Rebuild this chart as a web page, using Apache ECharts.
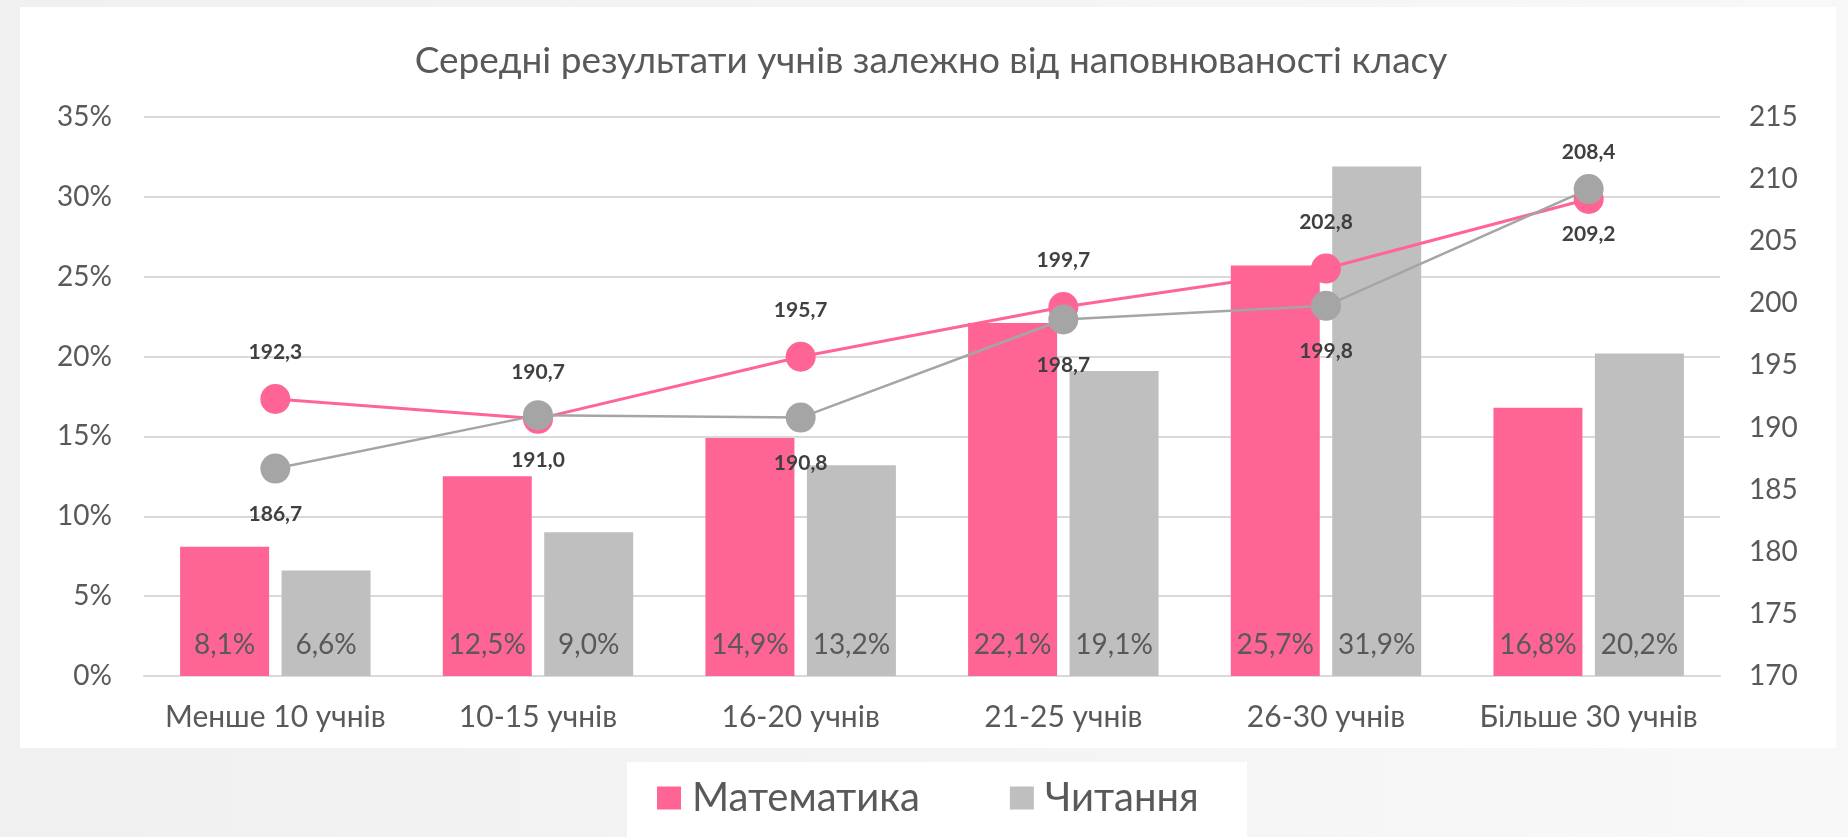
<!DOCTYPE html>
<html>
<head>
<meta charset="utf-8">
<script src="https://cdn.jsdelivr.net/npm/echarts@6/dist/echarts.min.js"></script>
<style>
  html, body { margin: 0; padding: 0; }
  #chart { width: 1848px; height: 837px; }
</style>
</head>
<body>
<div id="chart"></div>
<script>
const categories = ['Менше 10 учнів', '10-15 учнів', '16-20 учнів', '21-25 учнів', '26-30 учнів', 'Більше 30 учнів'];
// частка учнів, %
const mathShare = [8.1, 12.5, 14.9, 22.1, 25.7, 16.8];
const readShare = [6.6, 9.0, 13.2, 19.1, 31.9, 20.2];
// середній бал
const mathScore = [192.3, 190.7, 195.7, 199.7, 202.8, 208.4];
const readScore = [186.7, 191.0, 190.8, 198.7, 199.8, 209.2];

const PINK = '#FF6594';
const GRAY_BAR = '#BFBFBF';
const GRAY_LINE = '#A5A5A5';
const TXT = '#595959';
const FONT = 'Lato, "Liberation Sans", sans-serif';

const comma = v => v.toFixed(1).replace('.', ',');

const chart = echarts.init(document.getElementById('chart'));
chart.setOption({
  backgroundColor: {
    type: 'linear', x: 0, y: 0, x2: 1, y2: 0,
    colorStops: [{ offset: 0, color: '#F0F0F0' }, { offset: 1, color: '#F8F8F8' }]
  },
  textStyle: { fontFamily: FONT },
  graphic: {
    elements: [
      { type: 'rect', z: -100, silent: true, shape: { x: 20, y: 7, width: 1816, height: 741 }, style: { fill: '#fff' } },
      { type: 'rect', z: -100, silent: true, shape: { x: 627, y: 762, width: 620, height: 80 }, style: { fill: '#fff' } }
    ]
  },
  title: {
    text: 'Середні результати учнів залежно від наповнюваності класу',
    left: 926, top: 38, textAlign: 'center',
    textStyle: { color: TXT, fontSize: 37, fontWeight: 'normal', fontFamily: FONT }
  },
  legend: {
    data: ['Математика', 'Читання'],
    left: 657, top: 778, padding: 0,
    icon: 'rect', itemWidth: 24, itemHeight: 23, itemGap: 90,
    textStyle: { color: TXT, fontSize: 40, fontFamily: FONT, padding: [0, 0, 0, 6] }
  },
  grid: { left: 144, right: 128, top: 117, bottom: 161 },
  xAxis: {
    type: 'category',
    data: categories,
    axisTick: { show: false },
    axisLine: { lineStyle: { color: '#D9D9D9', width: 2 } },
    axisLabel: { color: TXT, fontSize: 30, margin: 26, interval: 0, fontFamily: FONT }
  },
  yAxis: [
    {
      type: 'value', min: 0, max: 35, interval: 5,
      axisLabel: { color: TXT, fontSize: 28, margin: 32, formatter: '{value}%', fontFamily: FONT },
      splitLine: { lineStyle: { color: '#D9D9D9', width: 2 } }
    },
    {
      type: 'value', min: 170, max: 215, interval: 5,
      axisLabel: { color: TXT, fontSize: 28, margin: 29, fontFamily: FONT },
      splitLine: { show: false }
    }
  ],
  series: [
    {
      name: 'Математика', type: 'bar', data: mathShare,
      barWidth: 89, barGap: '14%',
      itemStyle: { color: PINK },
      label: {
        show: true, position: 'insideBottom', distance: 17,
        color: TXT, fontSize: 28, fontFamily: FONT,
        formatter: p => comma(p.value) + '%'
      }
    },
    {
      name: 'Читання', type: 'bar', data: readShare,
      barWidth: 89,
      itemStyle: { color: GRAY_BAR },
      label: {
        show: true, position: 'insideBottom', distance: 17,
        color: TXT, fontSize: 28, fontFamily: FONT,
        formatter: p => comma(p.value) + '%'
      }
    },
    {
      name: 'Математика бал', type: 'line', yAxisIndex: 1, data: mathScore,
      symbol: 'circle', symbolSize: 30,
      lineStyle: { color: PINK, width: 3 },
      itemStyle: { color: PINK },
      label: {
        show: true, position: 'top', distance: 21,
        color: '#404040', fontSize: 21, fontWeight: 'bold', fontFamily: FONT,
        formatter: p => comma(p.value)
      }
    },
    {
      name: 'Читання бал', type: 'line', yAxisIndex: 1, data: readScore,
      symbol: 'circle', symbolSize: 30,
      lineStyle: { color: GRAY_LINE, width: 2.5 },
      itemStyle: { color: GRAY_LINE },
      label: {
        show: true, position: 'bottom', distance: 20,
        color: '#404040', fontSize: 21, fontWeight: 'bold', fontFamily: FONT,
        formatter: p => comma(p.value)
      }
    }
  ]
});
</script>
</body>
</html>
